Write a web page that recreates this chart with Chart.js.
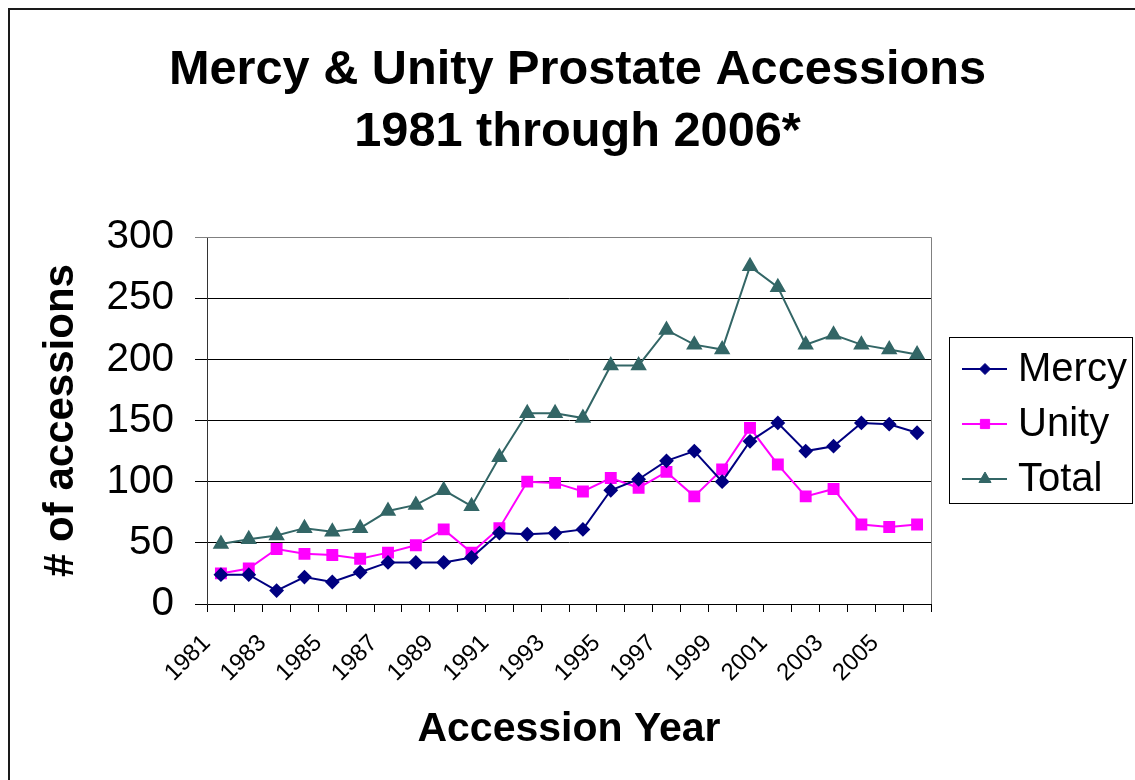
<!DOCTYPE html>
<html><head><meta charset="utf-8">
<script src="https://cdn.jsdelivr.net/npm/chart.js@4.4.1/dist/chart.umd.min.js"></script>
<style>html,body{margin:0;padding:0;background:#fff;}#wrap{width:1135px;height:780px;}canvas{display:block;}</style>
</head><body><div id="wrap"><canvas id="c" width="1135" height="780"></canvas></div>
<script>
const years = ['1981','1982','1983','1984','1985','1986','1987','1988','1989','1990','1991','1992','1993','1994','1995','1996','1997','1998','1999','2000','2001','2002','2003','2004','2005','2006'];
const mercy = [24,24,11,22,18,26,34,34,34,38,58,57,58,61,93,102,117,125,100,133,148,125,129,148,147,140];
const unity = [25,29,45,41,40,37,42,48,61,42,62,100,99,92,103,95,108,88,110,144,114,88,94,65,63,65];
const total = [49,53,56,62,59,62,76,81,93,80,120,156,156,152,195,195,224,212,208,276,259,212,220,212,208,204];
const titleLines = ['Mercy & Unity Prostate Accessions', '1981 through 2006*'];
const yAxisTitle = '# of accessions';
const xAxisTitle = 'Accession Year';
const yMin = 0, yMax = 300, yStep = 50;

const FONT = '"Liberation Sans", Arial, Helvetica, sans-serif';

const framePlugin = {
  id: 'frame',
  beforeDraw(chart) {
    const ctx = chart.ctx;
    ctx.save();
    ctx.fillStyle = '#fff';
    ctx.fillRect(0, 0, chart.width, chart.height);
    ctx.strokeStyle = '#1a1a1a';
    ctx.lineWidth = 2;
    ctx.beginPath();
    ctx.moveTo(9, chart.height + 2);
    ctx.lineTo(9, 9);
    ctx.lineTo(chart.width + 2, 9);
    ctx.stroke();
    ctx.restore();
  },
  beforeDatasetsDraw(chart) {
    const a = chart.chartArea, ctx = chart.ctx;
    ctx.save();
    ctx.strokeStyle = '#808080';
    ctx.lineWidth = 1;
    ctx.beginPath();
    ctx.moveTo(Math.round(a.left), Math.round(a.top) + 0.5);
    ctx.lineTo(Math.round(a.right) + 0.5, Math.round(a.top) + 0.5);
    ctx.lineTo(Math.round(a.right) + 0.5, Math.round(a.bottom));
    ctx.stroke();
    ctx.restore();
  }
};

const legendPlugin = {
  id: 'legendBox',
  afterDraw(chart) {
    const ctx = chart.ctx;
    ctx.save();
    ctx.strokeStyle = '#000';
    ctx.lineWidth = 1;
    ctx.strokeRect(949.5, 337.5, 183, 166);
    const ys = [369, 424, 479];
    chart.data.datasets.forEach((ds, i) => {
      const y = ys[i];
      ctx.strokeStyle = ds.borderColor;
      ctx.lineWidth = 2;
      ctx.beginPath();
      ctx.moveTo(962, y);
      ctx.lineTo(1007, y);
      ctx.stroke();
      ctx.fillStyle = ds.pointBackgroundColor;
      ctx.strokeStyle = ds.pointBorderColor;
      ctx.lineWidth = 1;
      Chart.helpers.drawPoint(ctx, {pointStyle: ds.pointStyle, radius: ds.pointRadius - 0.5, borderWidth: 1, rotation: 0}, 985, y);
      ctx.fillStyle = '#000';
      ctx.font = '40px ' + FONT;
      ctx.textBaseline = 'middle';
      ctx.textAlign = 'left';
      ctx.fillText(ds.label, 1018, y + 1);
    });
    ctx.restore();
  }
};

new Chart(document.getElementById('c'), {
  type: 'line',
  data: {
    labels: years,
    datasets: [
      {label: 'Mercy', data: mercy, borderColor: '#000080', backgroundColor: '#000080',
       pointBackgroundColor: '#000080', pointBorderColor: '#000080', pointStyle: 'rectRot', pointRadius: 6,
       borderWidth: 2, tension: 0, fill: false},
      {label: 'Unity', data: unity, borderColor: '#FF00FF', backgroundColor: '#FF00FF',
       pointBackgroundColor: '#FF00FF', pointBorderColor: '#FF00FF', pointStyle: 'rect', pointRadius: 7,
       borderWidth: 2, tension: 0, fill: false},
      {label: 'Total', data: total, borderColor: '#336666', backgroundColor: '#336666',
       pointBackgroundColor: '#336666', pointBorderColor: '#336666', pointStyle: 'triangle', pointRadius: 7.5,
       borderWidth: 2, tension: 0, fill: false}
    ]
  },
  options: {
    responsive: false,
    animation: false,
    devicePixelRatio: 1,
    layout: {padding: {left: 20, right: 0, top: 0, bottom: 0}},
    plugins: {
      legend: {display: false},
      tooltip: {enabled: false},
      title: {
        display: true,
        text: titleLines,
        color: '#000',
        font: {family: FONT, size: 48.7, weight: 'bold', lineHeight: 62/48.7},
        padding: {top: 40, bottom: 73}
      }
    },
    scales: {
      x: {
        type: 'category',
        offset: true,
        grid: {display: true, drawOnChartArea: false, drawTicks: true, tickLength: 8, offset: true, color: '#000', lineWidth: 1},
        border: {display: true, color: '#000', width: 1},
        ticks: {
          autoSkip: false, minRotation: 45, maxRotation: 45, color: '#000', padding: 3,
          font: {family: FONT, size: 24},
          callback: function(v, i) { return i % 2 === 0 ? this.getLabelForValue(v) + '\u00a0\u00a0\u00a0' : ''; }
        },
        title: {display: true, text: xAxisTitle, color: '#000', font: {family: FONT, size: 41, weight: 'bold', lineHeight: 1.2}, padding: {top: 0, bottom: 26}},
        afterFit(s) { s.height = 176; }
      },
      y: {
        min: yMin, max: yMax,
        grid: {color: (c) => (c.tick && c.tick.value === yMax ? '#808080' : '#000'), lineWidth: 1, tickLength: 12, drawTicks: true},
        border: {display: true, color: '#333', width: 1},
        ticks: {stepSize: yStep, color: '#000', padding: 21, font: {family: FONT, size: 40.5}},
        title: {display: true, text: yAxisTitle, color: '#000', font: {family: FONT, size: 42, weight: 'bold', lineHeight: 1.2}, padding: {top: 16, bottom: 0}},
        afterFit(s) { s.width = 187; }
      },
      y2: {
        position: 'right', display: true,
        grid: {display: false, drawTicks: false},
        border: {display: false},
        ticks: {display: false},
        afterFit(s) { s.width = 204; }
      }
    }
  },
  plugins: [framePlugin, legendPlugin]
});
</script>
</body></html>
